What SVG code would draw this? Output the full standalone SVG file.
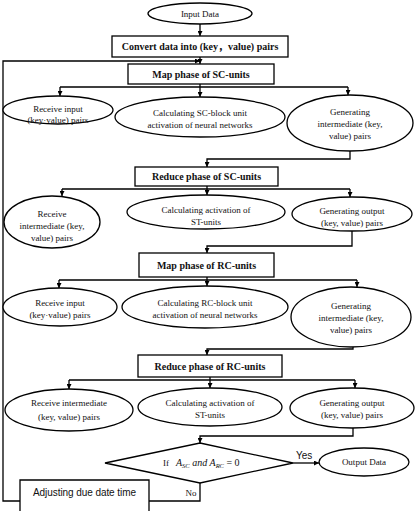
<svg xmlns="http://www.w3.org/2000/svg" width="417" height="516" viewBox="0 0 417 516">
<defs>
<style>
.n{fill:#fff;stroke:#000;stroke-width:1.3}
.t{font-family:"Liberation Serif","Noto Sans CJK SC",serif;font-size:9px;fill:#111;text-anchor:middle}
.b{font-family:"Liberation Serif","Noto Sans CJK SC",serif;font-size:10px;font-weight:bold;fill:#111;text-anchor:middle}
.s{font-family:"Liberation Sans",Arial,sans-serif;font-size:10px;fill:#111}
.c{fill:none;stroke:#000;stroke-width:1.3}
.a{fill:none;stroke:#000;stroke-width:1.3;marker-end:url(#ah)}
.m{font-family:"Liberation Serif",serif;font-style:italic;font-size:10px;fill:#111}
</style>
<marker id="ah" viewBox="0 0 8 8" refX="8" refY="4" markerWidth="5" markerHeight="5" orient="auto" markerUnits="userSpaceOnUse">
<path d="M0 0 L8 4 L0 8 Z" fill="#000"/>
</marker>
</defs>
<rect width="417" height="516" fill="#fff"/>
<g id="connectors">
<path class="a" d="M200 24 V36"/>
<path class="a" d="M200 57 V64"/>
<path class="a" d="M20 501 H3 V61 H200"/>
<path class="c" d="M200 84 V87 M60 87 H348"/>
<path class="a" d="M60 87 V96"/>
<path class="a" d="M200 87 V97"/>
<path class="a" d="M348 87 V95"/>
<path class="a" d="M350 151 V159 H207 V167"/>
<path class="c" d="M207 186 V189 M62 189 H350"/>
<path class="a" d="M62 189 V196"/>
<path class="a" d="M207 189 V195"/>
<path class="a" d="M350 189 V197"/>
<path class="a" d="M352 231 V246 H207 V253"/>
<path class="c" d="M207 277 V280 M59 280 H357"/>
<path class="a" d="M59 280 V288"/>
<path class="a" d="M207 280 V286"/>
<path class="a" d="M357 280 V287"/>
<path class="a" d="M353 347 V349 H207 V355"/>
<path class="c" d="M210 377 V380 M69 380 H355"/>
<path class="a" d="M69 380 V389"/>
<path class="a" d="M210 380 V388"/>
<path class="a" d="M355 380 V388"/>
<path class="a" d="M353 428 V436 H200 V443"/>
<path class="a" d="M293 463 H319"/>
<path class="c" d="M200 483 V501 H149"/>
<text class="s" x="296" y="459">Yes</text>
<text class="t" x="191" y="496">No</text>
</g>
<g id="input"><ellipse class="n" cx="200" cy="13.5" rx="52" ry="10.5"/><text class="t" x="200" y="17">Input Data</text></g>
<g id="convert"><rect class="n" x="112" y="36" width="176" height="21"/><text class="b" x="200" y="50">Convert data into (key，value) pairs</text></g>
<g id="map-sc"><rect class="n" x="128" y="64" width="146" height="20"/><text class="b" x="201" y="77.5">Map phase of SC-units</text></g>
<g id="e1"><ellipse class="n" cx="58" cy="110" rx="55" ry="14"/><text class="t" x="58" y="112">Receive input</text><text class="t" x="58" y="123">(key·value) pairs</text></g>
<g id="e2"><ellipse class="n" cx="200" cy="117" rx="85" ry="20"/><text class="t" x="200" y="116">Calculating SC-block unit</text><text class="t" x="200" y="128">activation of neural networks</text></g>
<g id="e3"><ellipse class="n" cx="350" cy="123" rx="63" ry="28"/><text class="t" x="350" y="115">Generating</text><text class="t" x="350" y="127">intermediate (key,</text><text class="t" x="350" y="138.5">value) pairs</text></g>
<g id="reduce-sc"><rect class="n" x="135" y="167" width="143" height="19"/><text class="b" x="206.5" y="180">Reduce phase of SC-units</text></g>
<g id="e4"><ellipse class="n" cx="52" cy="222" rx="48" ry="26"/><text class="t" x="52" y="217">Receive</text><text class="t" x="52" y="229">intermediate (key,</text><text class="t" x="52" y="240.5">value) pairs</text></g>
<g id="e5"><ellipse class="n" cx="206" cy="212" rx="79" ry="17"/><text class="t" x="206" y="213">Calculating activation of</text><text class="t" x="206" y="225">ST-units</text></g>
<g id="e6"><ellipse class="n" cx="352" cy="214" rx="60" ry="17"/><text class="t" x="352" y="214">Generating output</text><text class="t" x="352" y="226">(key, value) pairs</text></g>
<g id="map-rc"><rect class="n" x="139" y="253" width="135" height="24"/><text class="b" x="206.5" y="268.5">Map phase of RC-units</text></g>
<g id="e7"><ellipse class="n" cx="60" cy="307" rx="57" ry="19"/><text class="t" x="60" y="306">Receive input</text><text class="t" x="60" y="318">(key·value) pairs</text></g>
<g id="e8"><ellipse class="n" cx="205" cy="307" rx="83" ry="21"/><text class="t" x="205" y="306">Calculating RC-block unit</text><text class="t" x="205" y="318">activation of neural networks</text></g>
<g id="e9"><ellipse class="n" cx="351" cy="317" rx="60" ry="30"/><text class="t" x="351" y="309">Generating</text><text class="t" x="351" y="321">intermediate (key,</text><text class="t" x="351" y="332.5">value) pairs</text></g>
<g id="reduce-rc"><rect class="n" x="138" y="355" width="144" height="22"/><text class="b" x="210" y="369.5">Reduce phase of RC-units</text></g>
<g id="e10"><ellipse class="n" cx="69" cy="410" rx="64" ry="21"/><text class="t" x="69" y="406">Receive intermediate</text><text class="t" x="69" y="420">(key, value) pairs</text></g>
<g id="e11"><ellipse class="n" cx="210" cy="407" rx="72" ry="19"/><text class="t" x="210" y="406">Calculating activation of</text><text class="t" x="210" y="418">ST-units</text></g>
<g id="e12"><ellipse class="n" cx="352" cy="408" rx="62" ry="20"/><text class="t" x="352" y="406">Generating output</text><text class="t" x="352" y="418">(key, value) pairs</text></g>
<g id="decision"><polygon class="n" points="200,443 293,463 200,483 105,463"/>
<text class="t" x="166" y="466">If</text>
<text class="m" x="176" y="466">A<tspan font-size="6.5" dy="2">SC</tspan><tspan dy="-2"> and A</tspan><tspan font-size="6.5" dy="2">RC</tspan><tspan dy="-2" font-style="normal"> =  0</tspan></text>
</g>
<g id="output"><ellipse class="n" cx="364" cy="462" rx="45" ry="14"/><text class="t" x="364" y="465">Output Data</text></g>
<g id="adjust"><rect x="20" y="480" width="129" height="36" fill="#fff"/><path class="c" d="M20 511 V480 H149 V511"/><text class="s" x="33" y="496" textLength="103">Adjusting due date time</text></g>
</svg>
